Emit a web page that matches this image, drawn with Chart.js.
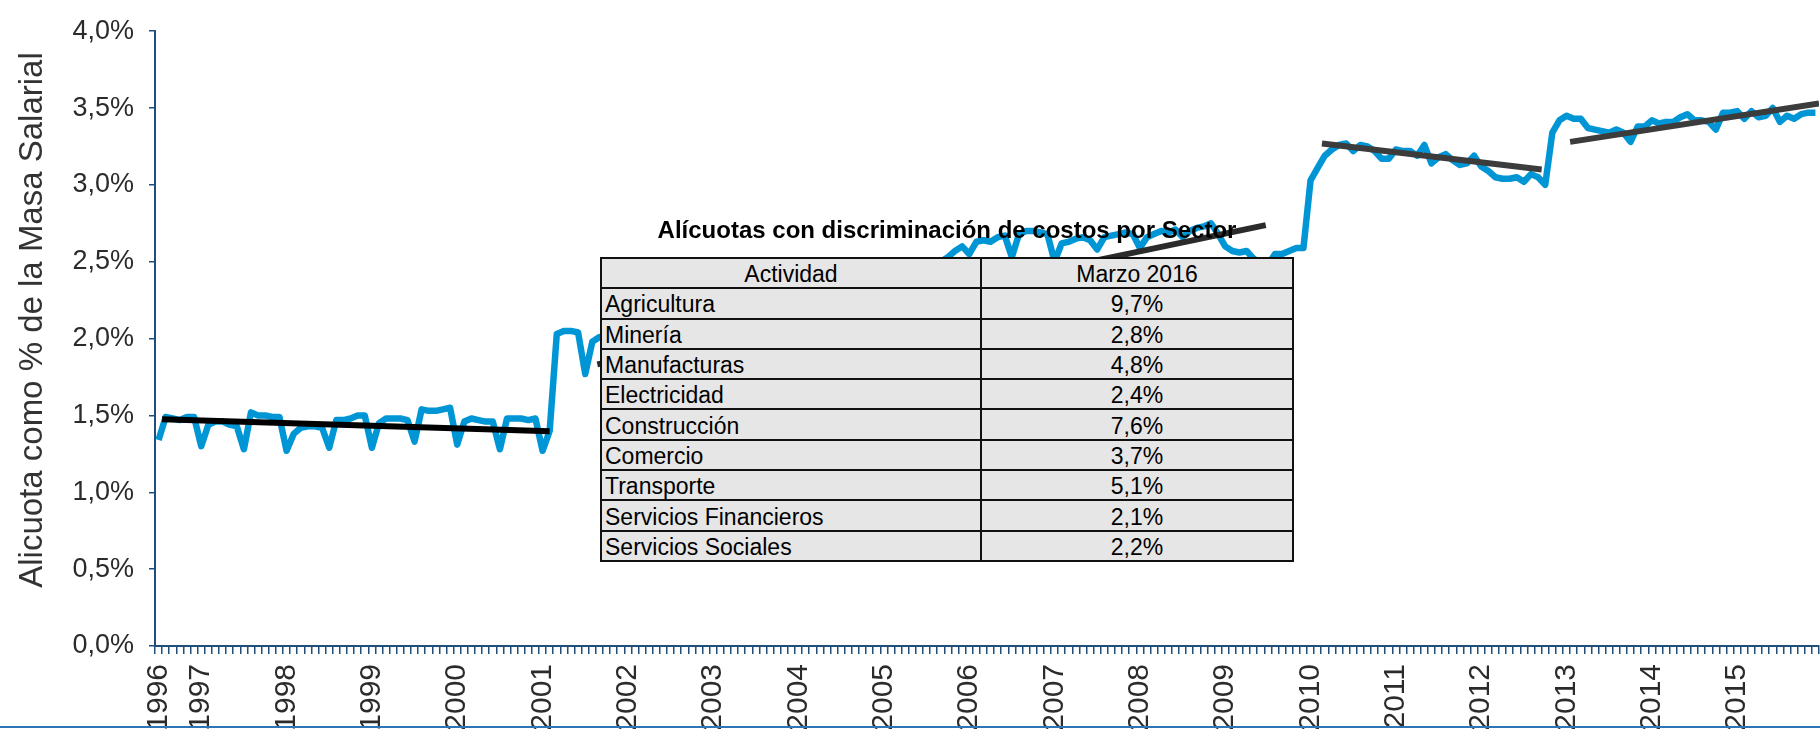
<!DOCTYPE html>
<html>
<head>
    <meta charset="utf-8">
    <style>
        body { margin: 0; background: #fff; }
        .frame {
            position: relative;
            width: 1820px;
            height: 729px;
            overflow: hidden;
            font-family: "Liberation Sans", Arial, sans-serif;
        }
        /* thin blue rule along the bottom of the picture */
        .frame .rule {
            position: absolute;
            left: 0; right: 0; top: 726px;
            height: 2px;
            background: #2e75b6;
        }
        .box-title {
            position: absolute;
            left: 600px; width: 694px;
            top: 216px;
            text-align: center;
            font-weight: bold;
            font-size: 24px;
            color: #000;
        }
        table.alic {
            position: absolute;
            left: 600px; top: 257px;
            width: 694px; height: 305px;
            border-collapse: collapse;
            background: #e6e6e6;
            font-size: 23px;
            color: #000;
        }
        table.alic td {
            border: 2px solid #111;
            padding: 2px 0 0 3px;
            line-height: 24px;
            white-space: nowrap;
        }
        table.alic td.v, table.alic td.h { text-align: center; padding-left: 0; }
    </style>
    <script src="https://cdn.jsdelivr.net/npm/chart.js"></script>
</head>
<body>
<div class="frame">
    <canvas id="chart" width="1820" height="729"></canvas>
    <div class="box-title" id="boxTitle"></div>
    <table class="alic" id="tabla"></table>
    <div class="rule"></div>
</div>
<script>
    // years on the axis and month codes (series runs Jul 1996 .. Dec 2015)
    const years = ['1996','1997','1998','1999','2000','2001','2002','2003','2004','2005',
                   '2006','2007','2008','2009','2010','2011','2012','2013','2014','2015'];
    const months = ['01','02','03','04','05','06','07','08','09','10','11','12'];

    // alicuota como % de la masa salarial, monthly
    const alicuota = [
        1.34, 1.49, 1.48, 1.47, 1.49, 1.49,                                  // 1996 jul-dic
        1.30, 1.44, 1.46, 1.46, 1.44, 1.43, 1.28, 1.52, 1.50, 1.50, 1.49, 1.49, // 1997
        1.27, 1.38, 1.42, 1.43, 1.43, 1.42, 1.29, 1.47, 1.47, 1.48, 1.50, 1.50, // 1998
        1.29, 1.45, 1.48, 1.48, 1.48, 1.47, 1.33, 1.54, 1.53, 1.53, 1.54, 1.55, // 1999
        1.31, 1.46, 1.48, 1.47, 1.46, 1.46, 1.28, 1.48, 1.48, 1.48, 1.47, 1.48, // 2000
        1.27, 1.40, 2.03, 2.05, 2.05, 2.04, 1.77, 1.98, 2.01, 2.00, 1.99, 2.00, // 2001
        1.85, 2.02, 2.03, 2.04, 2.05, 2.06, 1.90, 2.10, 2.11, 2.12, 2.13, 2.13, // 2002
        1.98, 2.16, 2.18, 2.19, 2.20, 2.21, 2.05, 2.24, 2.25, 2.27, 2.28, 2.29, // 2003
        2.12, 2.31, 2.32, 2.33, 2.35, 2.36, 2.20, 2.38, 2.39, 2.40, 2.41, 2.42, // 2004
        2.26, 2.43, 2.44, 2.44, 2.45, 2.45, 2.30, 2.47, 2.50, 2.53, 2.57, 2.60, // 2005
        2.55, 2.63, 2.64, 2.63, 2.66, 2.67, 2.53, 2.68, 2.70, 2.70, 2.69, 2.68, // 2006
        2.50, 2.62, 2.63, 2.65, 2.66, 2.64, 2.58, 2.66, 2.67, 2.68, 2.69, 2.68, // 2007
        2.59, 2.66, 2.68, 2.70, 2.69, 2.71, 2.66, 2.70, 2.72, 2.73, 2.75, 2.68, // 2008
        2.60, 2.57, 2.56, 2.57, 2.52, 2.49, 2.48, 2.55, 2.55, 2.57, 2.59, 2.59, // 2009
        3.03, 3.11, 3.19, 3.23, 3.26, 3.27, 3.22, 3.26, 3.25, 3.22, 3.17, 3.17, // 2010
        3.23, 3.22, 3.22, 3.19, 3.26, 3.14, 3.18, 3.20, 3.16, 3.13, 3.14, 3.19, // 2011
        3.12, 3.09, 3.05, 3.04, 3.04, 3.05, 3.02, 3.07, 3.05, 3.00, 3.34, 3.42, // 2012
        3.45, 3.43, 3.43, 3.37, 3.36, 3.35, 3.34, 3.36, 3.34, 3.28, 3.38, 3.38, // 2013
        3.42, 3.40, 3.41, 3.41, 3.44, 3.46, 3.42, 3.42, 3.41, 3.36, 3.47, 3.47, // 2014
        3.48, 3.43, 3.48, 3.44, 3.45, 3.50, 3.41, 3.45, 3.43, 3.46, 3.47, 3.47  // 2015
    ];

    // linear trends per period (position in months from jul-1996, value in %)
    const trendStart    = [0.5,   61.7,  163.6, 198.5];
    const trendEnd      = [55,    155.7, 194.5, 233.5];
    const trendStartVal = [1.475, 1.832, 3.27,  3.28];
    const trendEndVal   = [1.397, 2.738, 3.10,  3.53];
    const trendColors   = ['#000000', '#2b2b2b', '#3c3c3c', '#3c3c3c'];

    const yTitle = 'Alicuota como % de la Masa Salarial';

    // table: Alicuotas con discriminacion de costos por Sector
    const tablaTitulo = 'Alícuotas con discriminación de costos por Sector';
    const tablaHeader = ['Actividad', 'Marzo 2016'];
    const sectores = ['Agricultura', 'Minería', 'Manufacturas', 'Electricidad', 'Construcción',
                      'Comercio', 'Transporte', 'Servicios Financieros', 'Servicios Sociales'];
    const alicuotaSector = ['9,7%', '2,8%', '4,8%', '2,4%', '7,6%', '3,7%', '5,1%', '2,1%', '2,2%'];

    // build month categories
    var categories = [];
    years.forEach(function (y) {
        months.forEach(function (m) { categories.push(y + '-' + m); });
    });
    categories = categories.slice(6); // starts in july 1996

    // table html
    document.getElementById('boxTitle').textContent = tablaTitulo;
    var tabla = document.getElementById('tabla');
    var html = '<tr><td class="h" style="width:378px">' + tablaHeader[0] + '</td><td class="h">' + tablaHeader[1] + '</td></tr>';
    for (var k = 0; k < sectores.length; k++) {
        html += '<tr><td>' + sectores[k] + '</td><td class="v">' + alicuotaSector[k] + '</td></tr>';
    }
    tabla.innerHTML = html;

    var axisColor = '#1f4e79';
    var textColor = '#2b2b2b';
    var fontFam = '"Liberation Sans", Arial, sans-serif';

    var datasets = [{
        label: 'Alicuota',
        data: alicuota,
        borderColor: '#0096d6',
        borderWidth: 6.5,
        pointRadius: 0,
        tension: 0,
        borderJoinStyle: 'round',
        order: 2
    }];
    for (var t = 0; t < trendStart.length; t++) {
        datasets.push({
            label: 'Tendencia ' + (t + 1),
            xAxisID: 'xt',
            data: [{x: trendStart[t], y: trendStartVal[t]}, {x: trendEnd[t], y: trendEndVal[t]}],
            borderColor: trendColors[t],
            borderWidth: 6,
            pointRadius: 0,
            order: 1
        });
    }

    // vertical axis title, placed like the original
    var yTitlePlugin = {
        id: 'yTitle',
        afterDraw: function (chart) {
            var c = chart.ctx;
            c.save();
            c.translate(33, 320);
            c.rotate(-Math.PI / 2);
            c.font = '33px ' + fontFam;
            c.fillStyle = '#333';
            c.textAlign = 'center';
            c.textBaseline = 'middle';
            c.fillText(yTitle, 0, 0);
            c.restore();
        }
    };

    var ctx = document.getElementById('chart').getContext('2d');
    var chart = new Chart(ctx, {
        type: 'line',
        data: { labels: categories, datasets: datasets },
        plugins: [yTitlePlugin],
        options: {
            responsive: false,
            animation: false,
            devicePixelRatio: 1,
            layout: { padding: { top: 16, right: 1, left: 0, bottom: 0 } },
            plugins: { legend: { display: false }, tooltip: { enabled: false } },
            scales: {
                x: {
                    type: 'category',
                    offset: true,
                    grid: { offset: true, drawOnChartArea: false, tickLength: 8, color: axisColor, lineWidth: 1.5 },
                    border: { color: axisColor, width: 2 },
                    ticks: {
                        autoSkip: false,
                        maxRotation: 90,
                        minRotation: 90,
                        padding: 10,
                        color: textColor,
                        font: { family: fontFam, size: 30 },
                        callback: function (val, idx) {
                            var c = categories[idx];
                            return (idx === 0 || c.slice(5) === '01') ? c.slice(0, 4) : '';
                        }
                    },
                    afterFit: function (scale) {
                        scale.height = 83;
                        scale.paddingLeft = 0;
                        scale.paddingRight = 0;
                    }
                },
                xt: {
                    type: 'linear',
                    display: false,
                    min: -0.5,
                    max: categories.length - 0.5
                },
                y: {
                    min: 0,
                    max: 4,
                    grid: { drawOnChartArea: false, tickLength: 6, color: axisColor, lineWidth: 1.5 },
                    border: { color: axisColor, width: 2 },
                    ticks: {
                        stepSize: 0.5,
                        padding: 15,
                        color: textColor,
                        font: { family: fontFam, size: 27 },
                        callback: function (v) { return v.toFixed(1).replace('.', ',') + '%'; }
                    },
                    afterFit: function (scale) { scale.width = 155; }
                }
            }
        }
    });
</script>
</body>
</html>
